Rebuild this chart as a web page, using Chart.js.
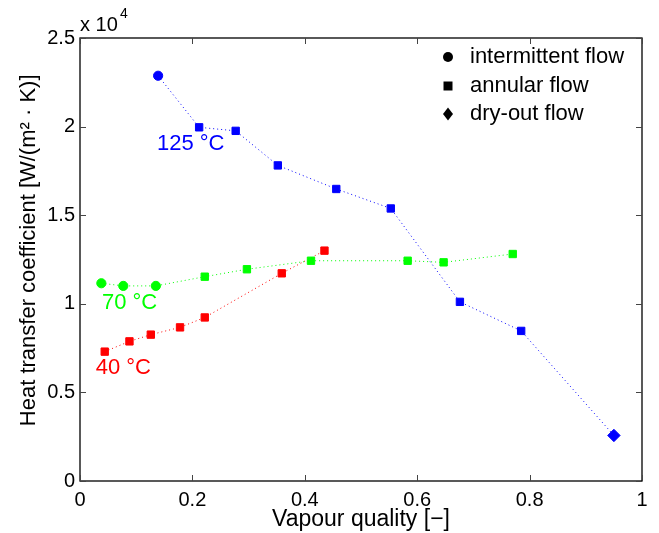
<!DOCTYPE html>
<html>
<head>
<meta charset="utf-8">
<script src="https://cdn.jsdelivr.net/npm/chart.js@4.4.1/dist/chart.umd.min.js"></script>
<style>
    html, body { margin: 0; padding: 0; background: #fff; }
    #wrap { width: 659px; height: 533px; }
</style>
</head>
<body>
<div id="wrap"><canvas id="chart" width="659" height="533"></canvas></div>
<script>
// data (y in W/(m2 K))
var x125 = [0.139, 0.212, 0.277, 0.352, 0.456, 0.553, 0.676, 0.785, 0.950];
var y125 = [22870, 19960, 19760, 17810, 16480, 15380, 10110, 8470, 2570];
var flow125 = ["int", "ann", "ann", "ann", "ann", "ann", "ann", "ann", "dry"];

var x70 = [0.038, 0.077, 0.135, 0.222, 0.297, 0.411, 0.583, 0.647, 0.770];
var y70 = [11160, 11010, 11010, 11530, 11950, 12430, 12430, 12340, 12810];
var flow70 = ["int", "int", "int", "ann", "ann", "ann", "ann", "ann", "ann"];

var x40 = [0.044, 0.088, 0.126, 0.178, 0.222, 0.359, 0.435];
var y40 = [7300, 7880, 8260, 8670, 9230, 11720, 13000];
var flow40 = ["ann", "ann", "ann", "ann", "ann", "ann", "ann"];

var seriesLabels = ["125 °C", "70 °C", "40 °C"];
var seriesColors = ["#0000ff", "#00ff00", "#ff0000"];
// where the series names sit, in data units
var labelX = [0.137, 0.039, 0.028];
var labelY = [19000, 10070, 6390];

var legendNames = ["intermittent flow", "annular flow", "dry-out flow"];

var font = "'Liberation Sans', Arial, Helvetica, sans-serif";

var styleOf = { int: "circle", ann: "rect", dry: "rectRot" };
var radiusOf = { int: 4.6, ann: 5.2, dry: 6.2 };

function makeSet(xs, ys, flows, color) {
    return {
        data: xs.map((x, i) => ({ x: x, y: ys[i] })),
        showLine: true,
        borderColor: color,
        borderWidth: 1,
        borderDash: [1, 3],
        backgroundColor: color,
        pointBackgroundColor: color,
        pointBorderColor: color,
        pointBorderWidth: 1,
        pointStyle: flows.map(f => styleOf[f]),
        pointRadius: flows.map(f => radiusOf[f]),
        tension: 0
    };
}

// box and inward ticks, MATLAB style
var boxPlugin = {
    id: "box",
    afterDraw(chart) {
        var ctx = chart.ctx;
        var a = chart.chartArea;
        var sx = chart.scales.x, sy = chart.scales.y;
        ctx.save();
        ctx.strokeStyle = "#000";
        ctx.lineWidth = 1.3;
        ctx.strokeRect(a.left, a.top, a.right - a.left, a.bottom - a.top);
        ctx.lineWidth = 1;
        ctx.strokeStyle = "#444";
        var tl = 6;
        sx.ticks.forEach(t => {
            var px = Math.round(sx.getPixelForValue(t.value)) + 0.5;
            ctx.beginPath();
            ctx.moveTo(px, a.bottom); ctx.lineTo(px, a.bottom - tl);
            ctx.moveTo(px, a.top); ctx.lineTo(px, a.top + tl);
            ctx.stroke();
        });
        sy.ticks.forEach(t => {
            var py = Math.round(sy.getPixelForValue(t.value)) + 0.5;
            ctx.beginPath();
            ctx.moveTo(a.left, py); ctx.lineTo(a.left + tl, py);
            ctx.moveTo(a.right, py); ctx.lineTo(a.right - tl, py);
            ctx.stroke();
        });

        // exponent label
        ctx.fillStyle = "#000";
        ctx.textBaseline = "middle";
        ctx.textAlign = "left";
        ctx.font = "20px " + font;
        ctx.fillText("x 10", a.left, 25);
        ctx.font = "14px " + font;
        ctx.fillText("4", a.left + 40, 14);

        // series names
        ctx.font = "22px " + font;
        seriesLabels.forEach((s, i) => {
            ctx.fillStyle = seriesColors[i];
            ctx.fillText(s, sx.getPixelForValue(labelX[i]), sy.getPixelForValue(labelY[i]));
        });

        // legend of marker shapes
        ctx.fillStyle = "#000";
        ctx.font = "22px " + font;
        var lx = 448, ly = [57, 86, 114];
        legendNames.forEach((n, i) => {
            var y = ly[i];
            ctx.beginPath();
            if (i === 0) {
                ctx.arc(lx, y, 5, 0, Math.PI * 2);
            } else if (i === 1) {
                ctx.rect(lx - 4.5, y - 4.5, 9, 9);
            } else {
                ctx.moveTo(lx, y - 6.5); ctx.lineTo(lx + 5, y);
                ctx.lineTo(lx, y + 6.5); ctx.lineTo(lx - 5, y);
                ctx.closePath();
            }
            ctx.fill();
            ctx.fillText(n, lx + 22, y);
        });
        ctx.restore();
    }
};

new Chart(document.getElementById("chart"), {
    type: "scatter",
    data: {
        datasets: [
            makeSet(x125, y125, flow125, seriesColors[0]),
            makeSet(x70, y70, flow70, seriesColors[1]),
            makeSet(x40, y40, flow40, seriesColors[2])
        ]
    },
    options: {
        responsive: false,
        animation: false,
        layout: { padding: { top: 38, right: 17, left: 0, bottom: 0 } },
        plugins: {
            legend: { display: false },
            tooltip: { enabled: false }
        },
        scales: {
            x: {
                type: "linear",
                min: 0,
                max: 1,
                grid: { display: false, drawTicks: false },
                border: { display: false },
                ticks: {
                    stepSize: 0.2,
                    color: "#000",
                    padding: 7,
                    maxRotation: 0,
                    font: { family: font, size: 20 },
                    callback: v => String(Math.round(v * 10) / 10)
                },
                title: {
                    display: true,
                    text: "Vapour quality [−]",
                    color: "#000",
                    font: { family: font, size: 23 },
                    padding: { top: 0, bottom: 0 }
                },
                afterFit: s => { s.height = 52; }
            },
            y: {
                type: "linear",
                min: 0,
                max: 25000,
                grid: { display: false, drawTicks: false },
                border: { display: false },
                ticks: {
                    stepSize: 5000,
                    color: "#000",
                    padding: 5,
                    font: { family: font, size: 20 },
                    callback: v => String(v / 10000)
                },
                title: {
                    display: true,
                    // leading spaces nudge the centred title upward like the reference
                    text: "   Heat transfer coefficient [W/(m² · K)]",
                    color: "#000",
                    font: { family: font, size: 22 },
                    padding: { top: 16, bottom: 0 }
                },
                afterFit: s => { s.width = 80; }
            }
        }
    },
    plugins: [boxPlugin]
});
</script>
</body>
</html>
